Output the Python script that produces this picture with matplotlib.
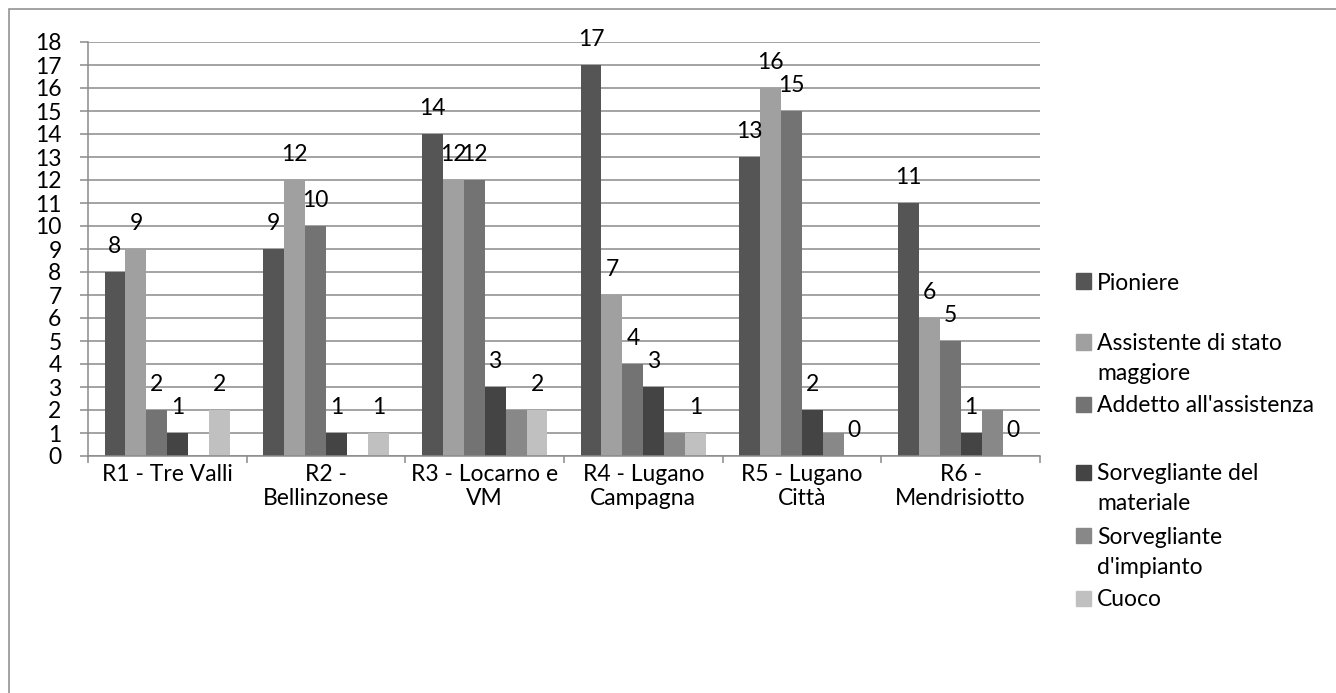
import numpy as np
import matplotlib.pyplot as plt
from matplotlib.patches import Rectangle

# ---- dati ----
regioni = ["R1 - Tre Valli", "R2 -\nBellinzonese", "R3 - Locarno e\nVM",
           "R4 - Lugano\nCampagna", "R5 - Lugano\nCittà", "R6 -\nMendrisiotto"]
serie = ["Pioniere", "Assistente di stato\nmaggiore", "Addetto all'assistenza",
         "Sorvegliante del\nmateriale", "Sorvegliante\nd'impianto", "Cuoco"]
pioniere = [8, 9, 14, 17, 13, 11]
assistente = [9, 12, 12, 7, 16, 6]
addetto = [2, 10, 12, 4, 15, 5]
sorv_materiale = [1, 1, 3, 3, 2, 1]
sorv_impianto = [0, 0, 2, 1, 1, 2]
cuoco = [2, 1, 2, 1, 0, 0]
valori = [pioniere, assistente, addetto, sorv_materiale, sorv_impianto, cuoco]
etichette = [True, True, True, True, False, True]  # la serie "d'impianto" non ha etichette

colori = ["#555555", "#a0a0a0", "#737373", "#444444", "#888888", "#c0c0c0"]
grigio = "#8a8a8a"

W, H = 1336, 693
plt.rcParams['font.family'] = ['Lato', 'DejaVu Sans']
fs = 16.5

fig = plt.figure(figsize=(W / 100, H / 100), dpi=100)
ax = fig.add_axes([88 / W, 1 - 456 / H, (1040 - 88) / W, (456 - 42) / H])

x = np.arange(len(regioni))
w = 0.132
for i, (vals, col) in enumerate(zip(valori, colori)):
    pos = x + (i - 2.5) * w
    ax.bar(pos, vals, width=w, color=col, zorder=3)
    if etichette[i]:
        for px, v in zip(pos, vals):
            ax.annotate(str(v), (px, v), xytext=(0, 13.5), textcoords='offset points',
                        ha='center', va='baseline', fontsize=fs, zorder=4)

ax.set_xlim(-0.5, len(regioni) - 0.5)
ax.set_ylim(0, 18)
ax.set_yticks(range(0, 19))
ax.grid(axis='y', color=grigio, linewidth=1.1, zorder=0)
for s in ['top', 'right']:
    ax.spines[s].set_visible(False)
for s in ['left', 'bottom']:
    ax.spines[s].set_color(grigio)
    ax.spines[s].set_linewidth(1.1)
ax.spines['bottom'].set_zorder(5)

ax.tick_params(axis='y', direction='out', length=6, width=1.1, color=grigio,
               pad=13, labelsize=fs)
ax.set_xticks(x)
ax.set_xticklabels(regioni, fontsize=fs, linespacing=1.15)
ax.tick_params(axis='x', which='major', length=0, pad=6)
ax.set_xticks(np.arange(-0.5, len(regioni)), minor=True)
ax.tick_params(axis='x', which='minor', direction='out', length=5, width=1.1, color=grigio)

# legenda disegnata a mano, come in Excel
legenda_y = [281, 342, 404, 472, 535, 598]
for nome, col, yy in zip(serie, colori, legenda_y):
    fig.add_artist(Rectangle((1076 / W, 1 - (yy + 7.5) / H), 15 / W, 15 / H,
                             transform=fig.transFigure, color=col))
    for k, riga in enumerate(nome.split("\n")):
        fig.text(1097 / W, 1 - (yy + k * 30) / H, riga, fontsize=fs,
                 va='center_baseline', ha='left')

# cornice del grafico
fig.add_artist(Rectangle((9 / W, -0.1), 1.2, 1 - 9 / H + 0.1, transform=fig.transFigure,
                         fill=False, edgecolor=grigio, linewidth=1.1))

fig.savefig("out.png", dpi=100)
